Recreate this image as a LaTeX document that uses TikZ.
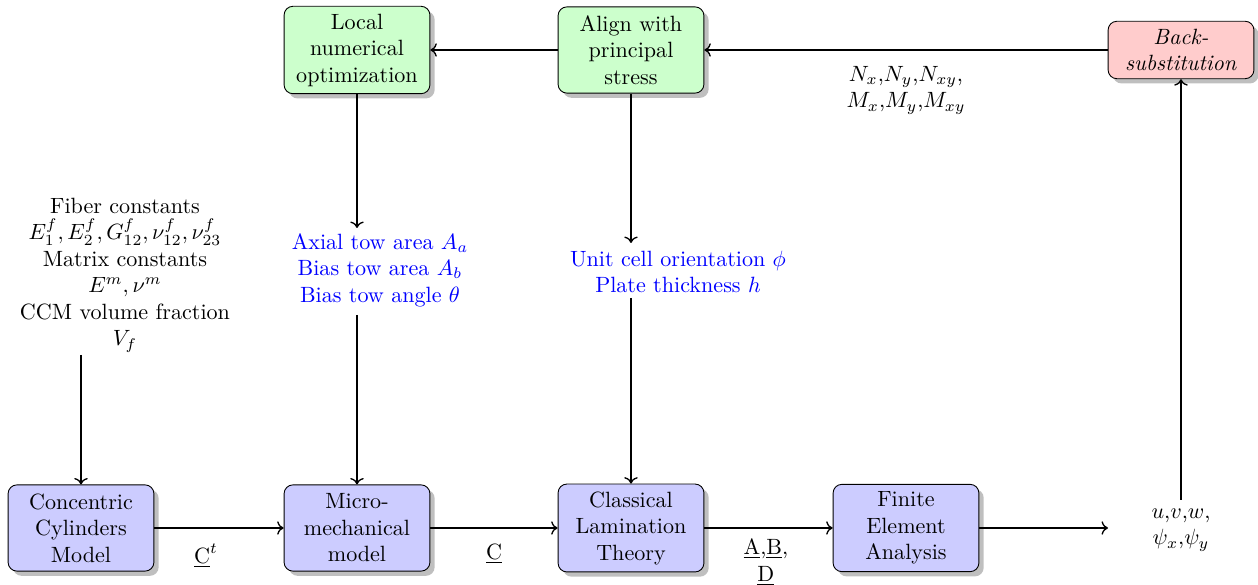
\documentclass[tikz,border=0pt]{standalone}
\usetikzlibrary{shadows,arrows.meta}
\begin{document}
\begin{tikzpicture}[x=0.4525pt,y=-0.4525pt,
  box/.style={draw, rounded corners=4pt, align=center, minimum width=66pt, drop shadow, thin},
  bluebox/.style={box, fill=blue!20, minimum height=39pt},
  greenbox/.style={box, fill=green!20, minimum height=39pt},
  redbox/.style={box, fill=red!20, minimum height=26pt},
  arr/.style={->, semithick},
  lbl/.style={align=center, inner sep=1pt},
  bluetxt/.style={align=center, text=blue, inner sep=1pt}]
\useasboundingbox (0,0) rectangle (1258,585);
% main boxes
\node[bluebox] (ccm) at (81,528) {Concentric\\Cylinders\\Model};
\node[bluebox] (mm) at (357,528) {Micro-\\mechanical\\model};
\node[bluebox] (clt) at (631,528) {Classical\\Lamination\\Theory};
\node[bluebox] (fea) at (906,528) {Finite\\Element\\Analysis};
\node[greenbox] (opt) at (357,50) {Local\\numerical\\optimization};
\node[greenbox] (align) at (631,50) {Align with\\principal\\stress};
\node[redbox] (back) at (1181,50) {\textit{Back-}\\\textit{substitution}};
% text nodes
\node[lbl] (fiber) at (125,275) {Fiber constants\\$E_1^f, E_2^f, G_{12}^f, \nu_{12}^f, \nu_{23}^f$\\Matrix constants\\$E^m, \nu^m$\\CCM volume fraction\\$V_f$};
\node[bluetxt] (geo) at (380,270) {Axial tow area $A_a$\\Bias tow area $A_b$\\Bias tow angle $\theta$};
\node[bluetxt] (orient) at (678,272) {Unit cell orientation $\phi$\\Plate thickness $h$};
\node[lbl] (out) at (1181,530) {$u$,$v$,$w$,\\$\psi_x$,$\psi_y$};
\coordinate (fiberend) at (81,355);
\coordinate (geotop) at (357,228);
\coordinate (geobot) at (357,315);
\coordinate (ortop) at (631,243);
\coordinate (orbot) at (631,298);
\coordinate (feaend) at (1108,528);
\coordinate (outtop) at (1181,500);
% connectors
\draw[arr] (fiberend) -- (ccm.north);
\draw[arr] (ccm.east) -- (mm.west) node[lbl, pos=0.4, below=6pt] {$\underline{\mathrm{C}}^t$};
\draw[arr] (mm.east) -- (clt.west) node[lbl, pos=0.5, below=6pt] {$\underline{\mathrm{C}}$};
\draw[arr] (clt.east) -- (fea.west) node[lbl, pos=0.48, below=4pt] {$\underline{\mathrm{A}}$,$\underline{\mathrm{B}}$,\\$\underline{\mathrm{D}}$};
\draw[arr] (fea.east) -- (feaend);
\draw[arr] (outtop) -- (back.south);
\draw[arr] (back.west) -- (align.east) node[lbl, pos=0.5, below=6pt] {$N_x$,$N_y$,$N_{xy}$,\\$M_x$,$M_y$,$M_{xy}$};
\draw[arr] (align.west) -- (opt.east);
\draw[arr] (opt.south) -- (geotop);
\draw[arr] (geobot) -- (mm.north);
\draw[arr] (align.south) -- (ortop);
\draw[arr] (orbot) -- (clt.north);
\end{tikzpicture}
\end{document}
